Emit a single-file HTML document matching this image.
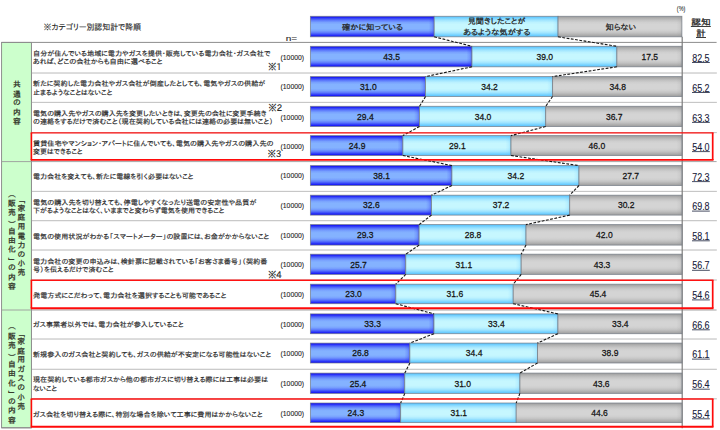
<!DOCTYPE html>
<html lang="ja"><head><meta charset="utf-8"><title>認知度グラフ</title>
<style>
html,body{margin:0;padding:0;background:#fff;}
body{width:720px;height:430px;overflow:hidden;position:relative;}
svg{display:block;position:absolute;left:0;top:0;}
.lb{font-family:"Liberation Sans","IPAPGothic","IPAGothic","Noto Sans CJK JP",sans-serif;font-size:6.9px;fill:#282828;stroke:#282828;stroke-width:0.17px;}
.nn{font-family:"Liberation Sans","IPAPGothic","IPAGothic","Noto Sans CJK JP",sans-serif;font-size:7px;fill:#1c1c1c;stroke:#1c1c1c;stroke-width:0.1px;}
.nt{font-family:"IPAPGothic","IPAGothic","Noto Sans CJK JP",sans-serif;font-size:9.2px;fill:#161616;stroke:#161616;stroke-width:0.15px;}
.vl{font-family:"Liberation Sans",sans-serif;font-size:9.8px;fill:#141414;stroke:#141414;stroke-width:0.28px;text-anchor:middle;}
.tt{font-family:"Liberation Sans",sans-serif;font-size:10.2px;fill:#18203a;stroke:#18203a;stroke-width:0.1px;text-anchor:middle;}
.lg{font-family:"Liberation Sans","IPAPGothic","IPAGothic","Noto Sans CJK JP",sans-serif;font-size:7.9px;fill:#222;stroke:#222;stroke-width:0.24px;text-anchor:middle;}
.vt{font-family:"IPAGothic","IPAPGothic","Noto Sans CJK JP",sans-serif;font-size:7.8px;fill:#2a2a20;stroke:#2a2a20;stroke-width:0.24px;writing-mode:vertical-rl;}
.ti{font-family:"Liberation Sans","IPAPGothic","IPAGothic","Noto Sans CJK JP",sans-serif;font-size:8.2px;fill:#222;stroke:#222;stroke-width:0.12px;}
.ne{font-family:"Liberation Sans","IPAPGothic","IPAGothic","Noto Sans CJK JP",sans-serif;font-size:7.9px;fill:#1c1c1c;stroke:#1c1c1c;stroke-width:0.1px;}
.pc{font-family:"Liberation Sans","IPAPGothic","IPAGothic","Noto Sans CJK JP",sans-serif;font-size:7.2px;fill:#151515;stroke:#151515;stroke-width:0.05px;text-anchor:middle;}
.hd{font-family:"Liberation Sans","IPAPGothic","IPAGothic","Noto Sans CJK JP",sans-serif;font-size:8.2px;fill:#262626;stroke:#262626;stroke-width:0.3px;text-anchor:middle;}
</style></head><body>
<svg width="720" height="430" viewBox="0 0 720 430">
<defs>
<linearGradient id="gb" x1="0" y1="0" x2="0" y2="1"><stop offset="0" stop-color="#1414f6"/><stop offset="0.05" stop-color="#1d21f7"/><stop offset="0.12" stop-color="#3f50f9"/><stop offset="0.2" stop-color="#5e7cfc"/><stop offset="0.3" stop-color="#79a2fe"/><stop offset="0.4" stop-color="#84b2ff"/><stop offset="0.6" stop-color="#84b2ff"/><stop offset="0.7" stop-color="#79a2fe"/><stop offset="0.8" stop-color="#5e7cfc"/><stop offset="0.88" stop-color="#3c4df9"/><stop offset="0.95" stop-color="#1d21f7"/><stop offset="1" stop-color="#1414f6"/></linearGradient>
<linearGradient id="gc" x1="0" y1="0" x2="0" y2="1"><stop offset="0" stop-color="#5ec6ff"/><stop offset="0.05" stop-color="#66caff"/><stop offset="0.12" stop-color="#86d9ff"/><stop offset="0.2" stop-color="#a3e6ff"/><stop offset="0.3" stop-color="#bcf2ff"/><stop offset="0.4" stop-color="#c6f7ff"/><stop offset="0.6" stop-color="#c6f7ff"/><stop offset="0.7" stop-color="#bcf2ff"/><stop offset="0.8" stop-color="#a3e6ff"/><stop offset="0.88" stop-color="#83d8ff"/><stop offset="0.95" stop-color="#66caff"/><stop offset="1" stop-color="#5ec6ff"/></linearGradient>
<linearGradient id="gg" x1="0" y1="0" x2="0" y2="1"><stop offset="0" stop-color="#a2a2a2"/><stop offset="0.05" stop-color="#a6a6a6"/><stop offset="0.12" stop-color="#b5b5b5"/><stop offset="0.2" stop-color="#c3c3c3"/><stop offset="0.3" stop-color="#cfcfcf"/><stop offset="0.4" stop-color="#d4d4d4"/><stop offset="0.6" stop-color="#d4d4d4"/><stop offset="0.7" stop-color="#cfcfcf"/><stop offset="0.8" stop-color="#c3c3c3"/><stop offset="0.88" stop-color="#b4b4b4"/><stop offset="0.95" stop-color="#a6a6a6"/><stop offset="1" stop-color="#a2a2a2"/></linearGradient>
<linearGradient id="hb" x1="0" y1="0" x2="1" y2="0"><stop offset="0" stop-color="#1a1af0" stop-opacity="0"/><stop offset="0.55" stop-color="#1a1af0" stop-opacity="0.15"/><stop offset="1" stop-color="#1a1af0" stop-opacity="0.43"/></linearGradient>
<linearGradient id="hc" x1="0" y1="0" x2="1" y2="0"><stop offset="0" stop-color="#5cc2ff" stop-opacity="0"/><stop offset="0.55" stop-color="#5cc2ff" stop-opacity="0.13"/><stop offset="1" stop-color="#5cc2ff" stop-opacity="0.37"/></linearGradient>
<linearGradient id="hg" x1="0" y1="0" x2="1" y2="0"><stop offset="0" stop-color="#8e8e8e" stop-opacity="0"/><stop offset="0.55" stop-color="#8e8e8e" stop-opacity="0.10"/><stop offset="1" stop-color="#8e8e8e" stop-opacity="0.28"/></linearGradient>
</defs>
<rect x="0" y="0" width="720" height="430" fill="#fff"/>
<rect x="1.6" y="42.4" width="29.8" height="385.4" fill="#ccffcc" stroke="#858585" stroke-width="0.9"/>
<line x1="1.5" y1="42.4" x2="716.6" y2="42.4" stroke="#8c8c8c" stroke-width="1"/>
<line x1="31.5" y1="73.0" x2="716.6" y2="73.0" stroke="#d8d8d8" stroke-width="0.9"/>
<line x1="31.5" y1="73.0" x2="716.6" y2="73.0" stroke="#a2a2a2" stroke-width="0.9" stroke-dasharray="1 1"/>
<line x1="31.5" y1="102.4" x2="716.6" y2="102.4" stroke="#d8d8d8" stroke-width="0.9"/>
<line x1="31.5" y1="102.4" x2="716.6" y2="102.4" stroke="#a2a2a2" stroke-width="0.9" stroke-dasharray="1 1"/>
<line x1="31.5" y1="132.6" x2="716.6" y2="132.6" stroke="#d8d8d8" stroke-width="0.9"/>
<line x1="31.5" y1="132.6" x2="716.6" y2="132.6" stroke="#a2a2a2" stroke-width="0.9" stroke-dasharray="1 1"/>
<line x1="1.5" y1="161.6" x2="716.6" y2="161.6" stroke="#9a9a9a" stroke-width="0.9"/>
<line x1="31.5" y1="191.4" x2="716.6" y2="191.4" stroke="#d8d8d8" stroke-width="0.9"/>
<line x1="31.5" y1="191.4" x2="716.6" y2="191.4" stroke="#a2a2a2" stroke-width="0.9" stroke-dasharray="1 1"/>
<line x1="31.5" y1="220.7" x2="716.6" y2="220.7" stroke="#d8d8d8" stroke-width="0.9"/>
<line x1="31.5" y1="220.7" x2="716.6" y2="220.7" stroke="#a2a2a2" stroke-width="0.9" stroke-dasharray="1 1"/>
<line x1="31.5" y1="250.0" x2="716.6" y2="250.0" stroke="#d8d8d8" stroke-width="0.9"/>
<line x1="31.5" y1="250.0" x2="716.6" y2="250.0" stroke="#a2a2a2" stroke-width="0.9" stroke-dasharray="1 1"/>
<line x1="31.5" y1="280.0" x2="716.6" y2="280.0" stroke="#d8d8d8" stroke-width="0.9"/>
<line x1="31.5" y1="280.0" x2="716.6" y2="280.0" stroke="#a2a2a2" stroke-width="0.9" stroke-dasharray="1 1"/>
<line x1="1.5" y1="310.0" x2="716.6" y2="310.0" stroke="#9a9a9a" stroke-width="0.9"/>
<line x1="31.5" y1="339.0" x2="716.6" y2="339.0" stroke="#d8d8d8" stroke-width="0.9"/>
<line x1="31.5" y1="339.0" x2="716.6" y2="339.0" stroke="#a2a2a2" stroke-width="0.9" stroke-dasharray="1 1"/>
<line x1="31.5" y1="369.3" x2="716.6" y2="369.3" stroke="#d8d8d8" stroke-width="0.9"/>
<line x1="31.5" y1="369.3" x2="716.6" y2="369.3" stroke="#a2a2a2" stroke-width="0.9" stroke-dasharray="1 1"/>
<line x1="31.5" y1="398.8" x2="716.6" y2="398.8" stroke="#d8d8d8" stroke-width="0.9"/>
<line x1="31.5" y1="398.8" x2="716.6" y2="398.8" stroke="#a2a2a2" stroke-width="0.9" stroke-dasharray="1 1"/>
<line x1="1.5" y1="427.8" x2="31.5" y2="427.8" stroke="#8c8c8c" stroke-width="1"/>
<line x1="31.5" y1="42.4" x2="31.5" y2="427.8" stroke="#8f8f8f" stroke-width="0.9"/>
<line x1="682.2" y1="36.8" x2="682.2" y2="428.3" stroke="#7c7c7c" stroke-width="1.2"/>
<rect x="310.40" y="16.30" width="123.83" height="20.50" fill="url(#gb)"/><rect x="428.73" y="16.30" width="5.5" height="20.50" fill="url(#hb)"/><rect x="310.40" y="16.30" width="123.83" height="20.50" fill="none" stroke="#707882" stroke-opacity="0.8" stroke-width="0.85"/><rect x="434.23" y="16.30" width="123.83" height="20.50" fill="url(#gc)"/><rect x="552.57" y="16.30" width="5.5" height="20.50" fill="url(#hc)"/><rect x="434.23" y="16.30" width="123.83" height="20.50" fill="none" stroke="#707882" stroke-opacity="0.8" stroke-width="0.85"/><rect x="558.07" y="16.30" width="123.83" height="20.50" fill="url(#gg)"/><rect x="676.40" y="16.30" width="5.5" height="20.50" fill="url(#hg)"/><rect x="558.07" y="16.30" width="123.83" height="20.50" fill="none" stroke="#707882" stroke-opacity="0.8" stroke-width="0.85"/>
<text class="lg" x="372.5" y="29.7" textLength="61.0" lengthAdjust="spacingAndGlyphs">確かに知っている</text>
<text class="lg" x="496.6" y="24.1" textLength="57.8" lengthAdjust="spacingAndGlyphs">見聞きしたことが</text>
<text class="lg" x="496.8" y="34.9" textLength="67.3" lengthAdjust="spacingAndGlyphs">あるような気がする</text>
<text class="lg" x="620.9" y="29.7" textLength="30.6" lengthAdjust="spacingAndGlyphs">知らない</text>
<rect x="310.40" y="46.30" width="161.60" height="20.50" fill="url(#gb)"/><rect x="466.50" y="46.30" width="5.5" height="20.50" fill="url(#hb)"/><rect x="310.40" y="46.30" width="161.60" height="20.50" fill="none" stroke="#707882" stroke-opacity="0.8" stroke-width="0.85"/><rect x="472.00" y="46.30" width="144.88" height="20.50" fill="url(#gc)"/><rect x="611.39" y="46.30" width="5.5" height="20.50" fill="url(#hc)"/><rect x="472.00" y="46.30" width="144.88" height="20.50" fill="none" stroke="#707882" stroke-opacity="0.8" stroke-width="0.85"/><rect x="616.89" y="46.30" width="65.01" height="20.50" fill="url(#gg)"/><rect x="676.40" y="46.30" width="5.5" height="20.50" fill="url(#hg)"/><rect x="616.89" y="46.30" width="65.01" height="20.50" fill="none" stroke="#707882" stroke-opacity="0.8" stroke-width="0.85"/>
<text class="vl" x="391.6" y="59.8" textLength="16.6" lengthAdjust="spacingAndGlyphs">43.5</text>
<text class="vl" x="544.8" y="59.8" textLength="16.6" lengthAdjust="spacingAndGlyphs">39.0</text>
<text class="vl" x="649.8" y="59.8" textLength="16.6" lengthAdjust="spacingAndGlyphs">17.5</text>
<text class="tt" x="700.9" y="61.6" textLength="17.4" lengthAdjust="spacingAndGlyphs">82.5</text>
<line x1="692.0" y1="62.5" x2="709.8" y2="62.5" stroke="#18203a" stroke-width="0.8"/>
<rect x="310.40" y="76.60" width="115.17" height="19.90" fill="url(#gb)"/><rect x="420.06" y="76.60" width="5.5" height="19.90" fill="url(#hb)"/><rect x="310.40" y="76.60" width="115.17" height="19.90" fill="none" stroke="#707882" stroke-opacity="0.8" stroke-width="0.85"/><rect x="425.56" y="76.60" width="127.05" height="19.90" fill="url(#gc)"/><rect x="547.12" y="76.60" width="5.5" height="19.90" fill="url(#hc)"/><rect x="425.56" y="76.60" width="127.05" height="19.90" fill="none" stroke="#707882" stroke-opacity="0.8" stroke-width="0.85"/><rect x="552.62" y="76.60" width="129.28" height="19.90" fill="url(#gg)"/><rect x="676.40" y="76.60" width="5.5" height="19.90" fill="url(#hg)"/><rect x="552.62" y="76.60" width="129.28" height="19.90" fill="none" stroke="#707882" stroke-opacity="0.8" stroke-width="0.85"/>
<text class="vl" x="368.4" y="89.8" textLength="16.6" lengthAdjust="spacingAndGlyphs">31.0</text>
<text class="vl" x="489.5" y="89.8" textLength="16.6" lengthAdjust="spacingAndGlyphs">34.2</text>
<text class="vl" x="617.7" y="89.8" textLength="16.6" lengthAdjust="spacingAndGlyphs">34.8</text>
<text class="tt" x="700.9" y="91.6" textLength="17.4" lengthAdjust="spacingAndGlyphs">65.2</text>
<line x1="692.0" y1="92.5" x2="709.8" y2="92.5" stroke="#18203a" stroke-width="0.8"/>
<rect x="310.40" y="106.30" width="109.11" height="20.20" fill="url(#gb)"/><rect x="414.01" y="106.30" width="5.5" height="20.20" fill="url(#hb)"/><rect x="310.40" y="106.30" width="109.11" height="20.20" fill="none" stroke="#707882" stroke-opacity="0.8" stroke-width="0.85"/><rect x="419.51" y="106.30" width="126.18" height="20.20" fill="url(#gc)"/><rect x="540.20" y="106.30" width="5.5" height="20.20" fill="url(#hc)"/><rect x="419.51" y="106.30" width="126.18" height="20.20" fill="none" stroke="#707882" stroke-opacity="0.8" stroke-width="0.85"/><rect x="545.70" y="106.30" width="136.20" height="20.20" fill="url(#gg)"/><rect x="676.40" y="106.30" width="5.5" height="20.20" fill="url(#hg)"/><rect x="545.70" y="106.30" width="136.20" height="20.20" fill="none" stroke="#707882" stroke-opacity="0.8" stroke-width="0.85"/>
<text class="vl" x="365.4" y="119.7" textLength="16.6" lengthAdjust="spacingAndGlyphs">29.4</text>
<text class="vl" x="483.0" y="119.7" textLength="16.6" lengthAdjust="spacingAndGlyphs">34.0</text>
<text class="vl" x="614.2" y="119.7" textLength="16.6" lengthAdjust="spacingAndGlyphs">36.7</text>
<text class="tt" x="700.9" y="121.5" textLength="17.4" lengthAdjust="spacingAndGlyphs">63.3</text>
<line x1="692.0" y1="122.4" x2="709.8" y2="122.4" stroke="#18203a" stroke-width="0.8"/>
<rect x="310.40" y="135.60" width="92.50" height="19.90" fill="url(#gb)"/><rect x="397.40" y="135.60" width="5.5" height="19.90" fill="url(#hb)"/><rect x="310.40" y="135.60" width="92.50" height="19.90" fill="none" stroke="#707882" stroke-opacity="0.8" stroke-width="0.85"/><rect x="402.90" y="135.60" width="108.11" height="19.90" fill="url(#gc)"/><rect x="505.51" y="135.60" width="5.5" height="19.90" fill="url(#hc)"/><rect x="402.90" y="135.60" width="108.11" height="19.90" fill="none" stroke="#707882" stroke-opacity="0.8" stroke-width="0.85"/><rect x="511.01" y="135.60" width="170.89" height="19.90" fill="url(#gg)"/><rect x="676.40" y="135.60" width="5.5" height="19.90" fill="url(#hg)"/><rect x="511.01" y="135.60" width="170.89" height="19.90" fill="none" stroke="#707882" stroke-opacity="0.8" stroke-width="0.85"/>
<text class="vl" x="357.1" y="148.9" textLength="16.6" lengthAdjust="spacingAndGlyphs">24.9</text>
<text class="vl" x="457.4" y="148.9" textLength="16.6" lengthAdjust="spacingAndGlyphs">29.1</text>
<text class="vl" x="596.9" y="148.9" textLength="16.6" lengthAdjust="spacingAndGlyphs">46.0</text>
<text class="tt" x="700.9" y="150.7" textLength="17.4" lengthAdjust="spacingAndGlyphs">54.0</text>
<line x1="692.0" y1="151.6" x2="709.8" y2="151.6" stroke="#18203a" stroke-width="0.8"/>
<rect x="310.40" y="165.60" width="141.54" height="19.90" fill="url(#gb)"/><rect x="446.44" y="165.60" width="5.5" height="19.90" fill="url(#hb)"/><rect x="310.40" y="165.60" width="141.54" height="19.90" fill="none" stroke="#707882" stroke-opacity="0.8" stroke-width="0.85"/><rect x="451.94" y="165.60" width="127.05" height="19.90" fill="url(#gc)"/><rect x="573.49" y="165.60" width="5.5" height="19.90" fill="url(#hc)"/><rect x="451.94" y="165.60" width="127.05" height="19.90" fill="none" stroke="#707882" stroke-opacity="0.8" stroke-width="0.85"/><rect x="578.99" y="165.60" width="102.91" height="19.90" fill="url(#gg)"/><rect x="676.40" y="165.60" width="5.5" height="19.90" fill="url(#hg)"/><rect x="578.99" y="165.60" width="102.91" height="19.90" fill="none" stroke="#707882" stroke-opacity="0.8" stroke-width="0.85"/>
<text class="vl" x="381.6" y="178.9" textLength="16.6" lengthAdjust="spacingAndGlyphs">38.1</text>
<text class="vl" x="515.9" y="178.9" textLength="16.6" lengthAdjust="spacingAndGlyphs">34.2</text>
<text class="vl" x="630.8" y="178.9" textLength="16.6" lengthAdjust="spacingAndGlyphs">27.7</text>
<text class="tt" x="700.9" y="180.7" textLength="17.4" lengthAdjust="spacingAndGlyphs">72.3</text>
<line x1="692.0" y1="181.6" x2="709.8" y2="181.6" stroke="#18203a" stroke-width="0.8"/>
<rect x="310.40" y="195.20" width="121.11" height="19.90" fill="url(#gb)"/><rect x="426.01" y="195.20" width="5.5" height="19.90" fill="url(#hb)"/><rect x="310.40" y="195.20" width="121.11" height="19.90" fill="none" stroke="#707882" stroke-opacity="0.8" stroke-width="0.85"/><rect x="431.51" y="195.20" width="138.20" height="19.90" fill="url(#gc)"/><rect x="564.21" y="195.20" width="5.5" height="19.90" fill="url(#hc)"/><rect x="431.51" y="195.20" width="138.20" height="19.90" fill="none" stroke="#707882" stroke-opacity="0.8" stroke-width="0.85"/><rect x="569.71" y="195.20" width="112.19" height="19.90" fill="url(#gg)"/><rect x="676.40" y="195.20" width="5.5" height="19.90" fill="url(#hg)"/><rect x="569.71" y="195.20" width="112.19" height="19.90" fill="none" stroke="#707882" stroke-opacity="0.8" stroke-width="0.85"/>
<text class="vl" x="371.4" y="208.4" textLength="16.6" lengthAdjust="spacingAndGlyphs">32.6</text>
<text class="vl" x="501.0" y="208.4" textLength="16.6" lengthAdjust="spacingAndGlyphs">37.2</text>
<text class="vl" x="626.2" y="208.4" textLength="16.6" lengthAdjust="spacingAndGlyphs">30.2</text>
<text class="tt" x="700.9" y="210.2" textLength="17.4" lengthAdjust="spacingAndGlyphs">69.8</text>
<line x1="692.0" y1="211.1" x2="709.8" y2="211.1" stroke="#18203a" stroke-width="0.8"/>
<rect x="310.40" y="224.60" width="108.74" height="20.50" fill="url(#gb)"/><rect x="413.64" y="224.60" width="5.5" height="20.50" fill="url(#hb)"/><rect x="310.40" y="224.60" width="108.74" height="20.50" fill="none" stroke="#707882" stroke-opacity="0.8" stroke-width="0.85"/><rect x="419.14" y="224.60" width="106.89" height="20.50" fill="url(#gc)"/><rect x="520.53" y="224.60" width="5.5" height="20.50" fill="url(#hc)"/><rect x="419.14" y="224.60" width="106.89" height="20.50" fill="none" stroke="#707882" stroke-opacity="0.8" stroke-width="0.85"/><rect x="526.03" y="224.60" width="155.87" height="20.50" fill="url(#gg)"/><rect x="676.40" y="224.60" width="5.5" height="20.50" fill="url(#hg)"/><rect x="526.03" y="224.60" width="155.87" height="20.50" fill="none" stroke="#707882" stroke-opacity="0.8" stroke-width="0.85"/>
<text class="vl" x="365.2" y="238.2" textLength="16.6" lengthAdjust="spacingAndGlyphs">29.3</text>
<text class="vl" x="473.0" y="238.2" textLength="16.6" lengthAdjust="spacingAndGlyphs">28.8</text>
<text class="vl" x="604.4" y="238.2" textLength="16.6" lengthAdjust="spacingAndGlyphs">42.0</text>
<text class="tt" x="700.9" y="239.9" textLength="17.4" lengthAdjust="spacingAndGlyphs">58.1</text>
<line x1="692.0" y1="240.8" x2="709.8" y2="240.8" stroke="#18203a" stroke-width="0.8"/>
<rect x="310.40" y="254.20" width="95.38" height="20.20" fill="url(#gb)"/><rect x="400.28" y="254.20" width="5.5" height="20.20" fill="url(#hb)"/><rect x="310.40" y="254.20" width="95.38" height="20.20" fill="none" stroke="#707882" stroke-opacity="0.8" stroke-width="0.85"/><rect x="405.78" y="254.20" width="115.42" height="20.20" fill="url(#gc)"/><rect x="515.70" y="254.20" width="5.5" height="20.20" fill="url(#hc)"/><rect x="405.78" y="254.20" width="115.42" height="20.20" fill="none" stroke="#707882" stroke-opacity="0.8" stroke-width="0.85"/><rect x="521.20" y="254.20" width="160.70" height="20.20" fill="url(#gg)"/><rect x="676.40" y="254.20" width="5.5" height="20.20" fill="url(#hg)"/><rect x="521.20" y="254.20" width="160.70" height="20.20" fill="none" stroke="#707882" stroke-opacity="0.8" stroke-width="0.85"/>
<text class="vl" x="358.5" y="267.6" textLength="16.6" lengthAdjust="spacingAndGlyphs">25.7</text>
<text class="vl" x="463.9" y="267.6" textLength="16.6" lengthAdjust="spacingAndGlyphs">31.1</text>
<text class="vl" x="602.0" y="267.6" textLength="16.6" lengthAdjust="spacingAndGlyphs">43.3</text>
<text class="tt" x="700.9" y="269.4" textLength="17.4" lengthAdjust="spacingAndGlyphs">56.7</text>
<line x1="692.0" y1="270.3" x2="709.8" y2="270.3" stroke="#18203a" stroke-width="0.8"/>
<rect x="310.40" y="284.20" width="85.44" height="19.50" fill="url(#gb)"/><rect x="390.34" y="284.20" width="5.5" height="19.50" fill="url(#hb)"/><rect x="310.40" y="284.20" width="85.44" height="19.50" fill="none" stroke="#707882" stroke-opacity="0.8" stroke-width="0.85"/><rect x="395.84" y="284.20" width="117.39" height="19.50" fill="url(#gc)"/><rect x="507.74" y="284.20" width="5.5" height="19.50" fill="url(#hc)"/><rect x="395.84" y="284.20" width="117.39" height="19.50" fill="none" stroke="#707882" stroke-opacity="0.8" stroke-width="0.85"/><rect x="513.24" y="284.20" width="168.66" height="19.50" fill="url(#gg)"/><rect x="676.40" y="284.20" width="5.5" height="19.50" fill="url(#hg)"/><rect x="513.24" y="284.20" width="168.66" height="19.50" fill="none" stroke="#707882" stroke-opacity="0.8" stroke-width="0.85"/>
<text class="vl" x="353.5" y="297.2" textLength="16.6" lengthAdjust="spacingAndGlyphs">23.0</text>
<text class="vl" x="454.9" y="297.2" textLength="16.6" lengthAdjust="spacingAndGlyphs">31.6</text>
<text class="vl" x="598.0" y="297.2" textLength="16.6" lengthAdjust="spacingAndGlyphs">45.4</text>
<text class="tt" x="700.9" y="299.1" textLength="17.4" lengthAdjust="spacingAndGlyphs">54.6</text>
<line x1="692.0" y1="299.9" x2="709.8" y2="299.9" stroke="#18203a" stroke-width="0.8"/>
<rect x="310.40" y="313.90" width="123.59" height="19.80" fill="url(#gb)"/><rect x="428.49" y="313.90" width="5.5" height="19.80" fill="url(#hb)"/><rect x="310.40" y="313.90" width="123.59" height="19.80" fill="none" stroke="#707882" stroke-opacity="0.8" stroke-width="0.85"/><rect x="433.99" y="313.90" width="123.96" height="19.80" fill="url(#gc)"/><rect x="552.44" y="313.90" width="5.5" height="19.80" fill="url(#hc)"/><rect x="433.99" y="313.90" width="123.96" height="19.80" fill="none" stroke="#707882" stroke-opacity="0.8" stroke-width="0.85"/><rect x="557.94" y="313.90" width="123.96" height="19.80" fill="url(#gg)"/><rect x="676.40" y="313.90" width="5.5" height="19.80" fill="url(#hg)"/><rect x="557.94" y="313.90" width="123.96" height="19.80" fill="none" stroke="#707882" stroke-opacity="0.8" stroke-width="0.85"/>
<text class="vl" x="372.6" y="327.1" textLength="16.6" lengthAdjust="spacingAndGlyphs">33.3</text>
<text class="vl" x="496.4" y="327.1" textLength="16.6" lengthAdjust="spacingAndGlyphs">33.4</text>
<text class="vl" x="620.3" y="327.1" textLength="16.6" lengthAdjust="spacingAndGlyphs">33.4</text>
<text class="tt" x="700.9" y="328.9" textLength="17.4" lengthAdjust="spacingAndGlyphs">66.6</text>
<line x1="692.0" y1="329.8" x2="709.8" y2="329.8" stroke="#18203a" stroke-width="0.8"/>
<rect x="310.40" y="343.10" width="99.46" height="19.90" fill="url(#gb)"/><rect x="404.36" y="343.10" width="5.5" height="19.90" fill="url(#hb)"/><rect x="310.40" y="343.10" width="99.46" height="19.90" fill="none" stroke="#707882" stroke-opacity="0.8" stroke-width="0.85"/><rect x="409.86" y="343.10" width="127.67" height="19.90" fill="url(#gc)"/><rect x="532.03" y="343.10" width="5.5" height="19.90" fill="url(#hc)"/><rect x="409.86" y="343.10" width="127.67" height="19.90" fill="none" stroke="#707882" stroke-opacity="0.8" stroke-width="0.85"/><rect x="537.53" y="343.10" width="144.37" height="19.90" fill="url(#gg)"/><rect x="676.40" y="343.10" width="5.5" height="19.90" fill="url(#hg)"/><rect x="537.53" y="343.10" width="144.37" height="19.90" fill="none" stroke="#707882" stroke-opacity="0.8" stroke-width="0.85"/>
<text class="vl" x="360.5" y="356.4" textLength="16.6" lengthAdjust="spacingAndGlyphs">26.8</text>
<text class="vl" x="474.1" y="356.4" textLength="16.6" lengthAdjust="spacingAndGlyphs">34.4</text>
<text class="vl" x="610.1" y="356.4" textLength="16.6" lengthAdjust="spacingAndGlyphs">38.9</text>
<text class="tt" x="700.9" y="358.2" textLength="17.4" lengthAdjust="spacingAndGlyphs">61.1</text>
<line x1="692.0" y1="359.1" x2="709.8" y2="359.1" stroke="#18203a" stroke-width="0.8"/>
<rect x="310.40" y="373.10" width="94.36" height="20.30" fill="url(#gb)"/><rect x="399.26" y="373.10" width="5.5" height="20.30" fill="url(#hb)"/><rect x="310.40" y="373.10" width="94.36" height="20.30" fill="none" stroke="#707882" stroke-opacity="0.8" stroke-width="0.85"/><rect x="404.76" y="373.10" width="115.17" height="20.30" fill="url(#gc)"/><rect x="514.43" y="373.10" width="5.5" height="20.30" fill="url(#hc)"/><rect x="404.76" y="373.10" width="115.17" height="20.30" fill="none" stroke="#707882" stroke-opacity="0.8" stroke-width="0.85"/><rect x="519.93" y="373.10" width="161.97" height="20.30" fill="url(#gg)"/><rect x="676.40" y="373.10" width="5.5" height="20.30" fill="url(#hg)"/><rect x="519.93" y="373.10" width="161.97" height="20.30" fill="none" stroke="#707882" stroke-opacity="0.8" stroke-width="0.85"/>
<text class="vl" x="358.0" y="386.6" textLength="16.6" lengthAdjust="spacingAndGlyphs">25.4</text>
<text class="vl" x="462.7" y="386.6" textLength="16.6" lengthAdjust="spacingAndGlyphs">31.0</text>
<text class="vl" x="601.3" y="386.6" textLength="16.6" lengthAdjust="spacingAndGlyphs">43.6</text>
<text class="tt" x="700.9" y="388.4" textLength="17.4" lengthAdjust="spacingAndGlyphs">56.4</text>
<line x1="692.0" y1="389.2" x2="709.8" y2="389.2" stroke="#18203a" stroke-width="0.8"/>
<rect x="310.40" y="403.00" width="90.27" height="19.60" fill="url(#gb)"/><rect x="395.17" y="403.00" width="5.5" height="19.60" fill="url(#hb)"/><rect x="310.40" y="403.00" width="90.27" height="19.60" fill="none" stroke="#707882" stroke-opacity="0.8" stroke-width="0.85"/><rect x="400.67" y="403.00" width="115.54" height="19.60" fill="url(#gc)"/><rect x="510.71" y="403.00" width="5.5" height="19.60" fill="url(#hc)"/><rect x="400.67" y="403.00" width="115.54" height="19.60" fill="none" stroke="#707882" stroke-opacity="0.8" stroke-width="0.85"/><rect x="516.21" y="403.00" width="165.69" height="19.60" fill="url(#gg)"/><rect x="676.40" y="403.00" width="5.5" height="19.60" fill="url(#hg)"/><rect x="516.21" y="403.00" width="165.69" height="19.60" fill="none" stroke="#707882" stroke-opacity="0.8" stroke-width="0.85"/>
<text class="vl" x="355.9" y="416.1" textLength="16.6" lengthAdjust="spacingAndGlyphs">24.3</text>
<text class="vl" x="458.8" y="416.1" textLength="16.6" lengthAdjust="spacingAndGlyphs">31.1</text>
<text class="vl" x="599.5" y="416.1" textLength="16.6" lengthAdjust="spacingAndGlyphs">44.6</text>
<text class="tt" x="700.9" y="417.9" textLength="17.4" lengthAdjust="spacingAndGlyphs">55.4</text>
<line x1="692.0" y1="418.8" x2="709.8" y2="418.8" stroke="#18203a" stroke-width="0.8"/>
<line x1="434.2" y1="36.8" x2="472.0" y2="46.3" stroke="#161616" stroke-width="1.1" stroke-dasharray="2.8 1.5"/>
<line x1="558.1" y1="36.8" x2="616.9" y2="46.3" stroke="#161616" stroke-width="1.1" stroke-dasharray="2.8 1.5"/>
<line x1="472.0" y1="66.8" x2="425.6" y2="76.6" stroke="#161616" stroke-width="1.1" stroke-dasharray="2.8 1.5"/>
<line x1="616.9" y1="66.8" x2="552.6" y2="76.6" stroke="#161616" stroke-width="1.1" stroke-dasharray="2.8 1.5"/>
<line x1="425.6" y1="96.5" x2="419.5" y2="106.3" stroke="#161616" stroke-width="1.1" stroke-dasharray="2.8 1.5"/>
<line x1="552.6" y1="96.5" x2="545.7" y2="106.3" stroke="#161616" stroke-width="1.1" stroke-dasharray="2.8 1.5"/>
<line x1="419.5" y1="126.5" x2="402.9" y2="135.6" stroke="#161616" stroke-width="1.1" stroke-dasharray="2.8 1.5"/>
<line x1="545.7" y1="126.5" x2="511.0" y2="135.6" stroke="#161616" stroke-width="1.1" stroke-dasharray="2.8 1.5"/>
<line x1="402.9" y1="155.5" x2="451.9" y2="165.6" stroke="#161616" stroke-width="1.1" stroke-dasharray="2.8 1.5"/>
<line x1="511.0" y1="155.5" x2="579.0" y2="165.6" stroke="#161616" stroke-width="1.1" stroke-dasharray="2.8 1.5"/>
<line x1="451.9" y1="185.5" x2="431.5" y2="195.2" stroke="#161616" stroke-width="1.1" stroke-dasharray="2.8 1.5"/>
<line x1="579.0" y1="185.5" x2="569.7" y2="195.2" stroke="#161616" stroke-width="1.1" stroke-dasharray="2.8 1.5"/>
<line x1="431.5" y1="215.1" x2="419.1" y2="224.6" stroke="#161616" stroke-width="1.1" stroke-dasharray="2.8 1.5"/>
<line x1="569.7" y1="215.1" x2="526.0" y2="224.6" stroke="#161616" stroke-width="1.1" stroke-dasharray="2.8 1.5"/>
<line x1="419.1" y1="245.1" x2="405.8" y2="254.2" stroke="#161616" stroke-width="1.1" stroke-dasharray="2.8 1.5"/>
<line x1="526.0" y1="245.1" x2="521.2" y2="254.2" stroke="#161616" stroke-width="1.1" stroke-dasharray="2.8 1.5"/>
<line x1="405.8" y1="274.4" x2="395.8" y2="284.2" stroke="#161616" stroke-width="1.1" stroke-dasharray="2.8 1.5"/>
<line x1="521.2" y1="274.4" x2="513.2" y2="284.2" stroke="#161616" stroke-width="1.1" stroke-dasharray="2.8 1.5"/>
<line x1="395.8" y1="303.7" x2="434.0" y2="313.9" stroke="#161616" stroke-width="1.1" stroke-dasharray="2.8 1.5"/>
<line x1="513.2" y1="303.7" x2="557.9" y2="313.9" stroke="#161616" stroke-width="1.1" stroke-dasharray="2.8 1.5"/>
<line x1="434.0" y1="333.7" x2="409.9" y2="343.1" stroke="#161616" stroke-width="1.1" stroke-dasharray="2.8 1.5"/>
<line x1="557.9" y1="333.7" x2="537.5" y2="343.1" stroke="#161616" stroke-width="1.1" stroke-dasharray="2.8 1.5"/>
<line x1="409.9" y1="363.0" x2="404.8" y2="373.1" stroke="#161616" stroke-width="1.1" stroke-dasharray="2.8 1.5"/>
<line x1="537.5" y1="363.0" x2="519.9" y2="373.1" stroke="#161616" stroke-width="1.1" stroke-dasharray="2.8 1.5"/>
<line x1="404.8" y1="393.4" x2="400.7" y2="403.0" stroke="#161616" stroke-width="1.1" stroke-dasharray="2.8 1.5"/>
<line x1="519.9" y1="393.4" x2="516.2" y2="403.0" stroke="#161616" stroke-width="1.1" stroke-dasharray="2.8 1.5"/>
<line x1="30.7" y1="132.8" x2="713.5" y2="132.8" stroke="#ff1212" stroke-width="1.15"/>
<line x1="30.7" y1="159.9" x2="713.5" y2="159.9" stroke="#ff0a0a" stroke-width="1.6"/>
<line x1="31.4" y1="132.8" x2="31.4" y2="160.0" stroke="#ff0a0a" stroke-width="1.6"/>
<line x1="712.7" y1="132.8" x2="712.7" y2="160.0" stroke="#ff0a0a" stroke-width="1.7"/>
<line x1="30.7" y1="280.3" x2="713.5" y2="280.3" stroke="#ff1212" stroke-width="1.55"/>
<line x1="30.7" y1="308.2" x2="713.5" y2="308.2" stroke="#ff0a0a" stroke-width="1.9"/>
<line x1="31.4" y1="280.3" x2="31.4" y2="308.3" stroke="#ff0a0a" stroke-width="1.6"/>
<line x1="712.7" y1="280.3" x2="712.7" y2="308.3" stroke="#ff0a0a" stroke-width="1.7"/>
<line x1="30.7" y1="399.0" x2="713.5" y2="399.0" stroke="#ff1212" stroke-width="1.55"/>
<line x1="30.7" y1="426.7" x2="713.5" y2="426.7" stroke="#ff0a0a" stroke-width="1.9"/>
<line x1="31.4" y1="399.0" x2="31.4" y2="426.8" stroke="#ff0a0a" stroke-width="1.6"/>
<line x1="712.7" y1="399.0" x2="712.7" y2="426.8" stroke="#ff0a0a" stroke-width="1.7"/>
<text class="ti" x="43.6" y="30.3" textLength="97.5" lengthAdjust="spacingAndGlyphs">※カテゴリー別認知計で降順</text>
<text class="ne" x="285.7" y="41.0" textLength="11.5" lengthAdjust="spacingAndGlyphs">n=</text>
<text class="pc" x="681.1" y="10.6" textLength="8.5" lengthAdjust="spacingAndGlyphs">(%)</text>
<text class="hd" x="700.9" y="25.3" textLength="19.4" lengthAdjust="spacingAndGlyphs">認知</text>
<text class="hd" x="701.0" y="36.3" textLength="9.4" lengthAdjust="spacingAndGlyphs">計</text>
<line x1="690.9" y1="26.5" x2="710.8" y2="26.5" stroke="#262626" stroke-width="0.9"/>
<line x1="696.0" y1="37.5" x2="706.0" y2="37.5" stroke="#262626" stroke-width="0.9"/>
<text class="lb" x="33.0" y="56.4" textLength="237.4" lengthAdjust="spacingAndGlyphs">自分が住んでいる地域に電力やガスを提供・販売している電力会社・ガス会社で</text>
<text class="lb" x="33.0" y="64.4" textLength="129.5" lengthAdjust="spacingAndGlyphs">あれば、どこの会社からも自由に選べること</text>
<text class="lb" x="33.0" y="86.3" textLength="232.3" lengthAdjust="spacingAndGlyphs">新たに契約した電力会社やガス会社が倒産したとしても、電気やガスの供給が</text>
<text class="lb" x="33.0" y="94.5" textLength="79.3" lengthAdjust="spacingAndGlyphs">止まるようなことはないこと</text>
<text class="lb" x="33.0" y="116.1" textLength="233.5" lengthAdjust="spacingAndGlyphs">電気の購入先やガスの購入先を変更したいときは、変更先の会社に変更手続き</text>
<text class="lb" x="33.0" y="123.9" textLength="240.1" lengthAdjust="spacingAndGlyphs">の連絡をするだけで済むこと（現在契約している会社には連絡の必要は無いこと）</text>
<text class="lb" x="33.0" y="145.5" textLength="240.5" lengthAdjust="spacingAndGlyphs">賃貸住宅やマンション・アパートに住んでいても、電気の購入先やガスの購入先の</text>
<text class="lb" x="33.0" y="153.5" textLength="49.5" lengthAdjust="spacingAndGlyphs">変更はできること</text>
<text class="lb" x="33.0" y="179.1" textLength="160.4" lengthAdjust="spacingAndGlyphs">電力会社を変えても、新たに電線を引く必要はないこと</text>
<text class="lb" x="33.0" y="204.5" textLength="223.4" lengthAdjust="spacingAndGlyphs">電気の購入先を切り替えても、停電しやすくなったり送電の安定性や品質が</text>
<text class="lb" x="33.0" y="213.1" textLength="191.5" lengthAdjust="spacingAndGlyphs">下がるようなことはなく、いままでと変わらず電気を使用できること</text>
<text class="lb" x="33.0" y="239.1" textLength="236.2" lengthAdjust="spacingAndGlyphs">電気の使用状況がわかる「スマートメーター」の設置には、お金がかからないこと</text>
<text class="lb" x="33.0" y="263.6" textLength="234.3" lengthAdjust="spacingAndGlyphs">電力会社の変更の申込みは、検針票に記載されている「お客さま番号」（契約番</text>
<text class="lb" x="33.0" y="271.8" textLength="80.6" lengthAdjust="spacingAndGlyphs">号）を伝えるだけで済むこと</text>
<text class="lb" x="33.0" y="297.9" textLength="193.4" lengthAdjust="spacingAndGlyphs">発電方式にこだわって、電力会社を選択することも可能であること</text>
<text class="lb" x="33.0" y="327.1" textLength="150.6" lengthAdjust="spacingAndGlyphs">ガス事業者以外では、電力会社が参入していること</text>
<text class="lb" x="33.0" y="357.1" textLength="238.1" lengthAdjust="spacingAndGlyphs">新規参入のガス会社と契約しても、ガスの供給が不安定になる可能性はないこと</text>
<text class="lb" x="33.0" y="382.4" textLength="235.0" lengthAdjust="spacingAndGlyphs">現在契約している都市ガスから他の都市ガスに切り替える際には工事は必要は</text>
<text class="lb" x="33.0" y="391.0" textLength="24.2" lengthAdjust="spacingAndGlyphs">ないこと</text>
<text class="lb" x="33.0" y="416.6" textLength="229.6" lengthAdjust="spacingAndGlyphs">ガス会社を切り替える際に、特別な場合を除いて工事に費用はかからないこと</text>
<text class="nn" x="280.5" y="59.5" textLength="23.6" lengthAdjust="spacingAndGlyphs">(10000)</text>
<text class="nn" x="280.5" y="89.3" textLength="23.6" lengthAdjust="spacingAndGlyphs">(10000)</text>
<text class="nn" x="280.5" y="119.6" textLength="23.6" lengthAdjust="spacingAndGlyphs">(10000)</text>
<text class="nn" x="280.5" y="149.2" textLength="23.6" lengthAdjust="spacingAndGlyphs">(10000)</text>
<text class="nn" x="280.5" y="178.4" textLength="23.6" lengthAdjust="spacingAndGlyphs">(10000)</text>
<text class="nn" x="280.5" y="208.1" textLength="23.6" lengthAdjust="spacingAndGlyphs">(10000)</text>
<text class="nn" x="280.5" y="238.2" textLength="23.6" lengthAdjust="spacingAndGlyphs">(10000)</text>
<text class="nn" x="280.5" y="267.2" textLength="23.6" lengthAdjust="spacingAndGlyphs">(10000)</text>
<text class="nn" x="280.5" y="297.1" textLength="23.6" lengthAdjust="spacingAndGlyphs">(10000)</text>
<text class="nn" x="280.5" y="326.8" textLength="23.6" lengthAdjust="spacingAndGlyphs">(10000)</text>
<text class="nn" x="280.5" y="356.4" textLength="23.6" lengthAdjust="spacingAndGlyphs">(10000)</text>
<text class="nn" x="280.5" y="386.3" textLength="23.6" lengthAdjust="spacingAndGlyphs">(10000)</text>
<text class="nn" x="280.5" y="415.8" textLength="23.6" lengthAdjust="spacingAndGlyphs">(10000)</text>
<text class="nt" x="267.9" y="70.1" textLength="13.8" lengthAdjust="spacingAndGlyphs">※1</text>
<text class="nt" x="268.3" y="111.0" textLength="13.8" lengthAdjust="spacingAndGlyphs">※2</text>
<text class="nt" x="267.6" y="156.8" textLength="13.8" lengthAdjust="spacingAndGlyphs">※3</text>
<text class="nt" x="267.9" y="278.1" textLength="13.8" lengthAdjust="spacingAndGlyphs">※4</text>
<text class="vt" x="16.8" y="79.9 89.0 98.1 107.3 116.4">共通の内容</text>
<text class="vt" x="21.4" y="196.1 203.5 212.7 221.9 231.1 240.3 249.5 258.7 267.9">「家庭用電力の小売</text>
<text class="vt" x="12.0" y="189.4 198.6 207.8 219.6 226.3 235.5 244.7 256.1 263.1 272.4 281.6">（販売）自由化」の内容</text>
<text class="vt" x="21.2" y="329.7 337.1 346.3 355.5 364.7 373.9 383.1 392.3 401.5">「家庭用ガスの小売</text>
<text class="vt" x="12.0" y="322.2 331.5 340.8 352.7 359.4 368.7 378.0 389.5 396.6 405.9 415.2">（販売）自由化」の内容</text>
</svg>
</body></html>
